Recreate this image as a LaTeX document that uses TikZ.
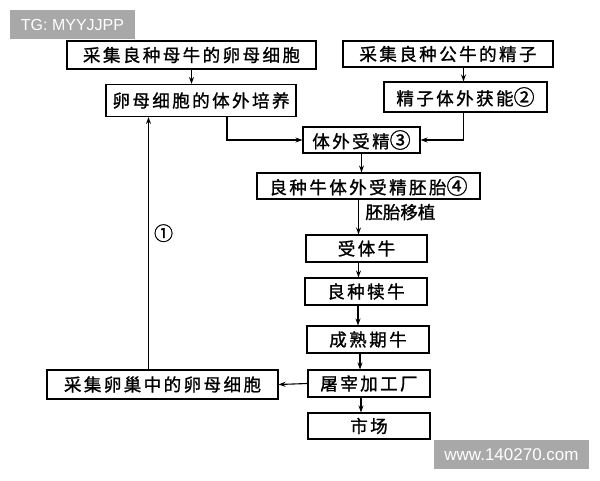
\documentclass[tikz,border=0pt]{standalone}
\usepackage{fontspec}
\setmainfont{Liberation Sans}
\newfontfamily\cjk[LetterSpace=14,FakeBold=1.2]{Noto Sans CJK SC}
\newfontfamily\cjkplain[FakeBold=1.2]{Noto Sans CJK SC}
\usepackage{xcolor}
\usetikzlibrary{arrows.meta,arrows}
\usetikzlibrary{positioning}
\usetikzlibrary{calc}

\definecolor{markgray}{HTML}{A8A8A8}
\newcommand{\cowfont}{\cjk\fontsize{17.5}{18}\selectfont}
\newcommand{\labfont}{\cjkplain\fontsize{17.5}{18}\selectfont}
\newcommand{\cnum}[1]{{\fontsize{21}{18}\selectfont #1}}

\begin{document}
\begin{tikzpicture}[>={Stealth[length=7pt,width=5pt]},x=1pt,y=-1pt,line width=1.1pt,auto]
 \tikzstyle{proc node}=[rectangle,draw,inner sep=0,minimum height=27pt,font=\cowfont]
 \tikzset{
 	tag node/.style={rectangle,fill=markgray,text=white,inner sep=0,minimum height=29pt},
 	num node/.style={font=\cjkplain\fontsize{19}{19}\selectfont,inner sep=1pt}
 }
 \useasboundingbox (0,0) rectangle (600,480);

       \node[proc node,minimum width=249pt,minimum height=28pt] (A) at (191.5,55) {采集良种母牛的卵母细胞};
       \node[proc node,minimum width=190pt,minimum height=32pt] (B) at (201,100.5) {卵母细胞的体外培养};
       \node[proc node,minimum width=210pt,minimum height=26pt] (C) at (448,54) {采集良种公牛的精子};
       \node[proc node,minimum width=163pt,minimum height=30pt] (D) at (465.5,97) {精子体外获能\cnum{②}};
       \node[proc node,minimum width=117pt,minimum height=26pt] (E) at (361.5,140) {体外受精\cnum{③}};
       \node[proc node,minimum width=223pt,minimum height=26pt] (F) at (368.5,186) {良种牛体外受精胚胎\cnum{④}};

       \node[proc node,minimum width=121pt] (G) at (366.5,248.5) {受体牛};
       \node[proc node,minimum width=122pt] (H) at (366,291.5) {良种犊牛};
       \node[proc node,minimum width=122pt] (I) at (368,339.5) {成熟期牛};
       \node[proc node,minimum width=122pt] (J) at (369,383.5) {屠宰加工厂};
       \node[proc node,minimum width=122pt,minimum height=26pt] (K) at (369,426) {市场};
       \node[proc node,minimum width=231pt,minimum height=29pt] (L) at (162.5,384.5) {采集卵巢中的卵母细胞};

       \node[tag node,minimum width=125pt,font=\fontsize{16}{16}\selectfont] (tg) at (72.5,24.5) {TG: MYYJJPP};
       \node[tag node,minimum width=155pt,font=\fontsize{17}{17}\selectfont] (web) at (511.5,454.5) {www.140270.com};

     \path[->]  (A.south) edge (A.south |- B.north);
     \path[->]  ([xshift=-2pt]D.north |- C.south) edge ([xshift=-2pt]D.north);
     \draw[->]  ([xshift=26pt]B.south) |- (E.west);
     \draw[->]  ([xshift=-2pt]D.south) |- (E.east);
     \path[->]  (E.south) edge (E.south |- F.north);
     \path[->]  ([xshift=-8pt]G.north |- F.south) edge node[right,pos=0.36,xshift=3pt,font=\labfont] {胚胎移植} ([xshift=-8pt]G.north);

     \foreach \a/\b in {G/H,H/I,I/J,J/K}
       \path[->] ([xshift=-8pt]\a.south) edge ([xshift=-8pt]\a.south |- \b.north);

     \path[->]  (J.west) edge (L.east);
     \path[->]  ([xshift=-14pt]L.north) edge node[num node,right,pos=0.54,xshift=4pt] {①} ([xshift=-14pt]L.north |- B.south);
 \end{tikzpicture}
\end{document}
